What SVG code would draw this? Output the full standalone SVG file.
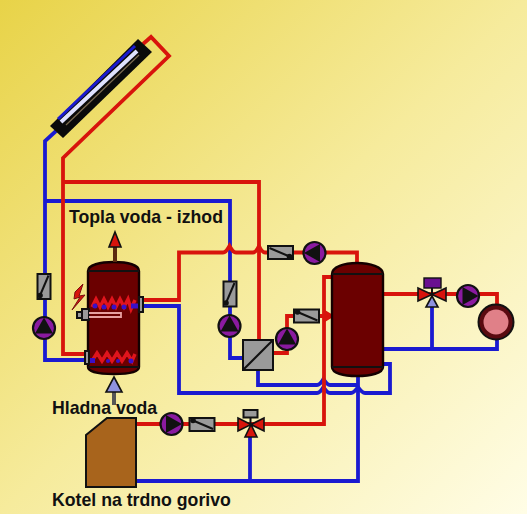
<svg xmlns="http://www.w3.org/2000/svg" width="527" height="514" viewBox="0 0 527 514">
<style>
.r{fill:none;stroke:#d8140c;stroke-width:3.8;stroke-linejoin:miter}
.b{fill:none;stroke:#1a1ad0;stroke-width:3.8;stroke-linejoin:miter}
.t{fill:#6b0000;stroke:#140000;stroke-width:2.4}
.g{fill:#9a9a9a;stroke:#111;stroke-width:2}
.k{fill:none;stroke:#111;stroke-width:2}
.pc{fill:#8a1aa0;stroke:#111;stroke-width:2.2}
.tx{font-family:"Liberation Sans",Arial,sans-serif;font-weight:700;font-size:17.700px;fill:#111}
.vr{fill:#d8140c;stroke:#111;stroke-width:1.600}
.vb{fill:#8f92e0;stroke:#111;stroke-width:1.600}
.coil{fill:none;stroke:#e0141c;stroke-width:3.400}
.dot{fill:#3a10c8}
</style>
<defs>
<linearGradient id="bg" x1="0" y1="0" x2="1" y2="1"><stop offset="0" stop-color="#e8d348"/><stop offset="0.5" stop-color="#f6eb9c"/><stop offset="1" stop-color="#fffde6"/></linearGradient>
<g id="pump"><circle r="11" class="pc"/><path d="M0-10.500 9 5.500-9 5.500Z" fill="#111"/></g>
<g id="cv"><rect x="-12.500" y="-6.500" width="25" height="13" class="g"/><path d="M-11-4.500 9 4" class="k"/><circle cx="9" cy="4" r="2.800" fill="#111"/></g>
</defs>
<rect width="527" height="514" fill="url(#bg)"/>
<g id="connectors">
<path class="b" d="M56 131 45 141V360H86"/>
<path class="b" d="M45 201H230V358H243"/>
<path class="r" d="M143 44 151 37 169 56 63 158V354H86"/>
<path class="r" d="M63 182H259V340"/>
<path class="b" d="M143 306H179V393H317Q320 393 323.500 387Q327 393 330 393H351Q354 393 358 387Q362 393 365 393H390V364H383"/>
<path class="b" d="M258 370V385H317Q320 385 323.500 379Q327 385 330 385H357"/>
<path class="b" d="M358 375V481H136"/>
<path class="r" d="M143 300H179V252.500H223Q226 252.500 229.500 246Q233 252.500 236 252.500H253Q256 252.500 259 246Q262 252.500 265 252.500H357V264"/>
<path class="r" d="M136 424H324V277H333"/>
<path class="r" d="M274 353H287V316H330"/>
<path class="r" d="M323.500 311.500 331 316 323.500 320.500"/>
<path class="r" d="M383 294H497V304"/>
<path class="b" d="M383 349H497V340"/>
<path class="b" d="M432 349V306"/>
<path class="b" d="M250 481V435"/>
</g>
<g id="collector">
<path d="M50 126 138 39 152 52 63 138Z" fill="#0a0a0a"/>
<path d="M58 119 135 46" stroke="#1a1ad0" stroke-width="3" fill="none"/>
<path d="M61 122 137 51" stroke="#dfe2ff" stroke-width="4" fill="none"/>
<path d="M66 125 139 55" stroke="#7a6a50" stroke-width="1.200" fill="none"/>
</g>
<g id="tank1">
<path class="t" d="M88 271C88 265 100 262 114 262S139 265 139 271V367C139 372 128 374 114 374S88 372 88 367Z"/>
<path class="k" d="M88 271H139M88 367H139"/>
<path class="coil" d="M92 307 96 299 100 307 104 299 108 307 112 299 116 307 120 299 124 307 128 299 131 309 135 300"/>
<path class="coil" d="M92 361 97 353 102 361 107 353 112 361 117 353 122 361 127 353 132 361 135 354"/>
<g class="dot"><circle cx="95" cy="306" r="2.500"/><circle cx="104" cy="307" r="2.500"/><circle cx="114" cy="307" r="2.500"/><circle cx="124" cy="307" r="2.500"/><rect x="131" y="303.500" width="8" height="5"/><rect x="89" y="358" width="6" height="5"/><circle cx="108" cy="361" r="2"/><circle cx="118" cy="361" r="2"/><circle cx="131" cy="361" r="2.500"/></g>
<rect x="139" y="297" width="4" height="15" class="g" stroke-width="1.400"/>
<rect x="85" y="351" width="4" height="13" class="g" stroke-width="1.400"/>
<rect x="82" y="309" width="7" height="11" class="g" stroke-width="1.400"/>
<rect x="77" y="312" width="5" height="6" class="g" stroke-width="1.400"/>
<path d="M89 313H121V317H89" fill="none" stroke="#e8a0a0" stroke-width="1.800"/>
<path d="M83 284 75 292 74 299 80 297 72 310 85 295 79 296Z" fill="#d8140c" stroke="#7a1010" stroke-width="1"/>
</g>
<g id="tank2">
<path class="t" d="M332 274C332 267 344 263 357 263S383 267 383 274V367C383 373 371 376 357 376S332 373 332 367Z"/>
<path class="k" d="M332 274H383M332 367H383"/>
</g>
<g id="hotout"><path d="M115 262V246" stroke="#5a2a10" stroke-width="4"/><path d="M115 232 121 247H109Z" class="vr"/></g>
<g id="coldin"><path d="M114 390V405" stroke="#555" stroke-width="4"/><path d="M114 377 122 392H106Z" class="vb"/></g>
<g id="hx"><rect x="243" y="340" width="30" height="30" class="g"/><path d="M243 370 273 340" class="k"/></g>
<g id="pump1"><use href="#pump" transform="translate(44 328)"/></g>
<g id="pump2"><use href="#pump" transform="translate(229.500 326)"/></g>
<g id="pump3"><use href="#pump" transform="translate(287 339)"/></g>
<g id="pump4"><use href="#pump" transform="translate(314.500 253) rotate(-90)"/></g>
<g id="pump5"><use href="#pump" transform="translate(468 296) rotate(90)"/></g>
<g id="pump6"><use href="#pump" transform="translate(171.500 424) rotate(90)"/></g>
<g id="cv1"><use href="#cv" transform="translate(44 286.500) rotate(90)"/></g>
<g id="cv2"><use href="#cv" transform="translate(230 294) rotate(90)"/></g>
<g id="cv3"><use href="#cv" transform="translate(280.500 252.500)"/></g>
<g id="cv4"><use href="#cv" transform="translate(306.500 316) rotate(180)"/></g>
<g id="cv5"><use href="#cv" transform="translate(202 424.500) rotate(180)"/></g>
<g id="valve1">
<rect x="424" y="278" width="17" height="10" fill="#6a1090" stroke="#111" stroke-width="1.400"/>
<path d="M432 288V294" class="k"/>
<path d="M418 288 432 294.500 418 301Z M446 288 432 294.500 446 301Z" class="vr"/>
<path d="M432 296 438 307H426Z" class="vb"/>
</g>
<g id="valve2">
<rect x="243.500" y="410" width="14" height="7.500" class="g" stroke-width="1.400"/>
<path d="M250.500 417V424" class="k"/>
<path d="M238 418 251 424.500 238 431Z M264 418 251 424.500 264 431Z M251 424.500 257 437H245Z" class="vr"/>
</g>
<g id="radiator"><circle cx="496" cy="322" r="17.500" fill="#5a0a10" stroke="#111" stroke-width="2"/><circle cx="496" cy="322" r="12.500" fill="#e08088"/></g>
<g id="boiler"><path d="M86 435 107 418H136V487H86Z" fill="#a8641c" stroke="#111" stroke-width="2"/></g>
<g id="labels">
<text class="tx" x="69" y="223">Topla voda - izhod</text>
<text class="tx" x="52" y="414">Hladna voda</text>
<text class="tx" x="52" y="506">Kotel na trdno gorivo</text>
</g>
</svg>
